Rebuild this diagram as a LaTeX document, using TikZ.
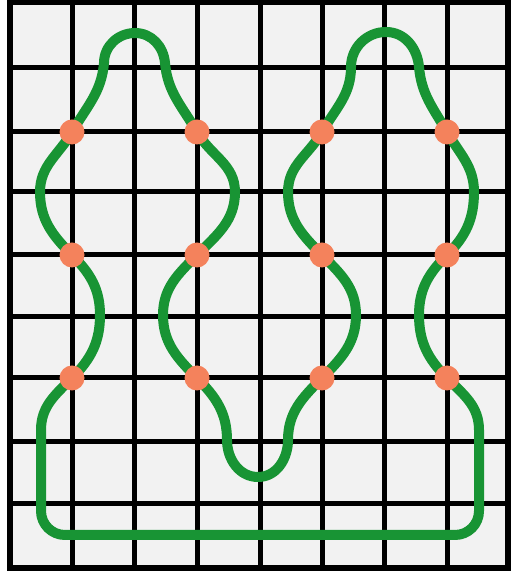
\documentclass[tikz,border=0pt]{standalone}
\usepackage{tikz}
\usetikzlibrary{positioning}
\definecolor{loopgreen}{RGB}{24,148,52}
\definecolor{dotorange}{RGB}{244,130,92}
\definecolor{paper}{RGB}{242,242,242}

\begin{document}
\begin{tikzpicture}[x=1pt,y=1pt]

\tikzset{gridline/.style = {line width=5pt, line cap=round}}
\tikzset{loop/.style = {line width=10pt, loopgreen, line join=round}}
\tikzset{dot/.style = {shape=circle, fill=dotorange, minimum size=25pt, inner sep=0pt}}

\useasboundingbox (0,0) rectangle (513,575);
\fill[white] (0,0) rectangle (513,575);
\fill[paper] (10,7) rectangle (508,573);

% grid
\foreach \x in {72,134,197,260,322,384,447}
  \draw[gridline] (\x,7) -- (\x,573);
\foreach \y in {507,443,383,320,258,197,133,71}
  \draw[gridline] (10,\y) -- (508,\y);
\draw[gridline, line width=6pt] (10,7) rectangle (508,573);

% crossings on the loop
\coordinate (l1) at (72,443);
\coordinate (l2) at (72,320);
\coordinate (l3) at (72,197);
\coordinate (m1) at (197,443);
\coordinate (m2) at (197,320);
\coordinate (m3) at (197,197);
\coordinate (n1) at (322,443);
\coordinate (n2) at (322,320);
\coordinate (n3) at (322,197);
\coordinate (r1) at (447,443);
\coordinate (r2) at (447,320);
\coordinate (r3) at (447,197);

% loop
\draw[loop] (l3) to[out=225,in=90] (41,145)
  -- (41,64) to[out=270,in=180] (65,40)
  -- (455,40) to[out=0,in=270] (479,64)
  -- (479,145)
  to[out=90,in=-45] (r3)
  to[out=135,in=270] (419,260)
  to[out=90,in=225] (r2)
  to[out=45,in=270] (474,383)
  to[out=90,in=300] (r1)
  to[out=120,in=275] (419,508)
  to[out=95,in=0] (386,543)
  to[out=180,in=90] (351,508)
  to[out=270,in=60] (n1)
  to[out=240,in=90] (288,383)
  to[out=270,in=135] (n2)
  to[out=315,in=90] (356,260)
  to[out=270,in=45] (n3)
  to[out=225,in=90] (288,135)
  to[out=270,in=0] (258,98)
  to[out=180,in=270] (227,135)
  to[out=90,in=-45] (m3)
  to[out=135,in=270] (163,260)
  to[out=90,in=225] (m2)
  to[out=45,in=270] (235,383)
  to[out=90,in=300] (m1)
  to[out=120,in=275] (165,512)
  to[out=95,in=0] (135,542)
  to[out=180,in=90] (104,512)
  to[out=265,in=60] (l1)
  to[out=240,in=90] (40,383)
  to[out=270,in=135] (l2)
  to[out=315,in=90] (100,260)
  to[out=270,in=45] (l3) -- cycle;

% dots
\foreach \c in {l1,l2,l3,m1,m2,m3,n1,n2,n3,r1,r2,r3}
  \node[dot] (d\c) at (\c) {};

\end{tikzpicture}
\end{document}
